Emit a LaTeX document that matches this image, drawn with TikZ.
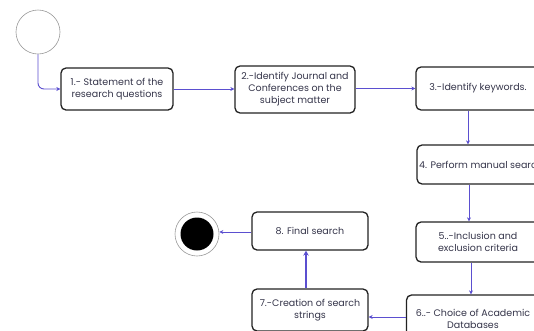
\documentclass[tikz,border=0pt]{standalone}
\usepackage{fontspec}
\setmainfont{Poppins}
\usetikzlibrary{arrows.meta}
\definecolor{txtc}{HTML}{35354A}
\definecolor{arrc}{HTML}{5B4FD0}
\definecolor{bordc}{HTML}{222222}
\definecolor{ringc}{HTML}{9A9A9A}
\tikzset{
  stepbox/.style={draw=bordc, line width=1.3pt, rounded corners=5pt, fill=white,
    text=txtc, align=center, inner sep=2pt,
    font=\fontsize{9.5}{12}\selectfont},
  arr/.style={draw=arrc, line width=0.9pt, -{Stealth[length=4pt,width=4pt]}},
  thickarr/.style={draw=arrc, line width=1.6pt, -{Stealth[length=5pt,width=5.5pt]}},
}
\begin{document}
\begin{tikzpicture}[x=1pt,y=-1pt]
\useasboundingbox (0,0) rectangle (534,330);
\clip (0,0) rectangle (534,330);
\fill[white] (0,0) rectangle (534,330);
% start / end
\node[circle, draw=ringc, line width=0.6pt, minimum size=44pt, inner sep=0pt] (s) at (38,32) {};
\node[circle, draw=ringc, line width=0.6pt, minimum size=44pt, inner sep=0pt] (e) at (197,234) {};
\node[circle, fill=black, minimum size=33pt, inner sep=0pt] (ei) at (197,234) {};
% boxes
\node[stepbox, minimum width=112pt, minimum height=42pt] (b1) at (117,89) {1.- Statement of the\\research questions};
\node[stepbox, minimum width=120pt, minimum height=47pt] (b2) at (295,89.5) {2.-Identify Journal and\\Conferences on the\\subject matter};
\node[stepbox, minimum width=124pt, minimum height=43pt] (b3) at (478,88.5) {3.-Identify keywords.};
\node[stepbox, minimum width=128pt, minimum height=39pt] (b4) at (481,164.5) {4. Perform manual search};
\node[stepbox, minimum width=124pt, minimum height=40pt] (b5) at (478,242) {5..-Inclusion and\\exclusion criteria};
\node[stepbox, minimum width=133pt, minimum height=48pt] (b6) at (473,319) {6..- Choice of Academic\\Databases};
\node[stepbox, minimum width=116pt, minimum height=42pt] (b7) at (310,310) {7.-Creation of search\\strings};
\node[stepbox, minimum width=116pt, minimum height=38pt] (b8) at (310,231) {8. Final search};
% guide coordinates
\coordinate (c34) at (468,0);
\coordinate (c45) at (469,0);
\coordinate (c56) at (471,0);
\coordinate (c78) at (306,0);
\coordinate (r67) at (0,317);
\coordinate (r8e) at (0,232);
% connectors
\draw[arr, rounded corners=6pt] (s.south) |- (b1.west);
\draw[arr] (b1.east) -- (b1.east -| b2.west);
\draw[arr] (b2.east |- b3.west) -- (b3.west);
\draw[arr] (b3.south -| c34) -- (b4.north -| c34);
\draw[arr] (b4.south -| c45) -- (b5.north -| c45);
\draw[arr] (b5.south -| c56) -- (b6.north -| c56);
\draw[arr] (b6.west |- r67) -- (b7.east |- r67);
\draw[thickarr] (b7.north -| c78) -- (b8.south -| c78);
\draw[arr] (b8.west |- r8e) -- (e.east |- r8e);
\end{tikzpicture}
\end{document}
